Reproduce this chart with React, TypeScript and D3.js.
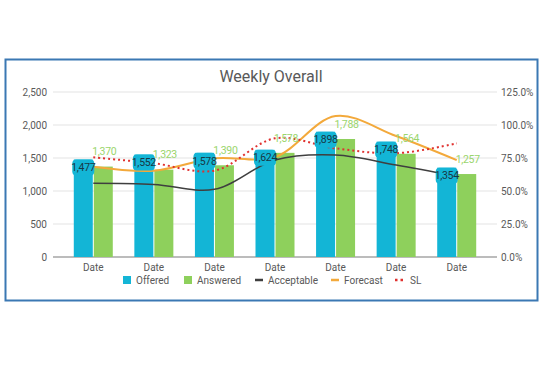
import React from "react";
import * as d3 from "d3";

const categories = ["Date", "Date", "Date", "Date", "Date", "Date", "Date"];
const offered = [1477, 1552, 1578, 1624, 1898, 1748, 1354];
const answered = [1370, 1323, 1390, 1578, 1788, 1564, 1257];
const acceptable = [1117, 1100, 1025, 1470, 1545, 1394, 1222];
const forecast = [1368, 1308, 1495, 1515, 2136, 1833, 1468];
const sl = [0.755, 0.71, 0.654, 0.899, 0.823, 0.786, 0.861];
const leftTicks = [0, 500, 1000, 1500, 2000, 2500];
const rightTicks = [0, 0.25, 0.5, 0.75, 1.0, 1.25];

const W = 540;
const H = 375;
const FONT = "Roboto, 'Open Sans', sans-serif";

export default function App() {
  const x = d3
    .scaleBand<number>()
    .domain(categories.map((_, i) => i))
    .range([63, 487])
    .padding(0);
  const yL = d3.scaleLinear().domain([0, 2500]).range([257, 92]);
  const yR = d3.scaleLinear().domain([0, 1.25]).range([257, 92]);
  const cx = (i: number) => (x(i) as number) + x.bandwidth() / 2;
  const bw = 19;
  const fmt = d3.format(",");
  const pfmt = d3.format(".1%");

  const lineL = d3
    .line<number>()
    .x((_, i) => cx(i))
    .y((d) => yL(d))
    .curve(d3.curveCatmullRom.alpha(0.5));
  const lineR = d3
    .line<number>()
    .x((_, i) => cx(i))
    .y((d) => yR(d))
    .curve(d3.curveCatmullRom.alpha(0.5));

  const cyan = "#13B5D6";
  const green = "#8ED05C";
  const orange = "#F3A93B";
  const dark = "#3F3F3F";
  const red = "#E0312F";
  const txt = "#595959";

  return (
    <svg
      width={W}
      height={H}
      style={{ position: "absolute", left: 0, top: 0, background: "#fff" }}
      fontFamily={FONT}
    >
      <rect x={0} y={0} width={W} height={H} fill="#fff" />
      <rect
        x={5.5}
        y={59.5}
        width={532}
        height={241}
        fill="#fff"
        stroke="#3B78B3"
        strokeWidth={2}
      />
      <text x={271} y={82} textAnchor="middle" fontSize={16} fill={txt}>
        Weekly Overall
      </text>
      {leftTicks.map((t) => (
        <g key={"g" + t}>
          <line
            x1={53}
            x2={497}
            y1={yL(t)}
            y2={yL(t)}
            stroke={t === 0 ? "#A6A6A6" : "#E3E3E3"}
            strokeWidth={t === 0 ? 1.5 : 1}
          />
          <text
            x={47}
            y={yL(t)}
            dy="0.35em"
            textAnchor="end"
            fontSize={10}
            fill={txt}
          >
            {fmt(t)}
          </text>
        </g>
      ))}
      {rightTicks.map((t) => (
        <text
          key={"r" + t}
          x={501}
          y={yR(t)}
          dy="0.35em"
          textAnchor="start"
          fontSize={10}
          fill={txt}
        >
          {pfmt(t)}
        </text>
      ))}
      {offered.map((v, i) => (
        <rect
          key={"o" + i}
          x={cx(i) - bw - 0.5}
          y={yL(v)}
          width={bw}
          height={yL(0) - yL(v)}
          fill={cyan}
        />
      ))}
      {answered.map((v, i) => (
        <rect
          key={"a" + i}
          x={cx(i) + 0.5}
          y={yL(v)}
          width={bw}
          height={yL(0) - yL(v)}
          fill={green}
        />
      ))}
      <path d={lineL(acceptable) || ""} fill="none" stroke={dark} strokeWidth={1.5} />
      <path d={lineL(forecast) || ""} fill="none" stroke={orange} strokeWidth={2} />
      <path
        d={lineR(sl) || ""}
        fill="none"
        stroke={red}
        strokeWidth={2}
        strokeDasharray="2,3"
      />
      {offered.map((v, i) => {
        const bx = cx(i) - bw / 2 - 0.5;
        const by = yL(v) + 8;
        return (
          <g key={"ol" + i}>
            <rect x={bx - 11} y={by - 8} width={22} height={16} rx={4} fill={cyan} />
            <text
              x={bx}
              y={by}
              dy="0.35em"
              textAnchor="middle"
              fontSize={10.5}
              letterSpacing={-0.3}
              fill="#173845"
            >
              {fmt(v)}
            </text>
          </g>
        );
      })}
      {answered.map((v, i) => (
        <text
          key={"al" + i}
          x={cx(i) + bw / 2 + 1.5}
          y={yL(v) - 15}
          dy="0.35em"
          textAnchor="middle"
          fontSize={10.5}
          letterSpacing={-0.3}
          fill="#9AD56C"
        >
          {fmt(v)}
        </text>
      ))}
      {categories.map((c, i) => (
        <text
          key={"c" + i}
          x={cx(i)}
          y={267}
          dy="0.35em"
          textAnchor="middle"
          fontSize={10}
          fill={txt}
        >
          {c}
        </text>
      ))}
      <g fontSize={10} fill={txt}>
        <rect x={123} y={276} width={8} height={8} fill={cyan} />
        <text x={136} y={280} dy="0.35em">Offered</text>
        <rect x={184} y={276} width={8} height={8} fill={green} />
        <text x={197} y={280} dy="0.35em">Answered</text>
        <line x1={255} x2={263} y1={280} y2={280} stroke={dark} strokeWidth={2.5} />
        <text x={268} y={280} dy="0.35em">Acceptable</text>
        <line x1={331} x2={339} y1={280} y2={280} stroke={orange} strokeWidth={2.5} />
        <text x={344} y={280} dy="0.35em">Forecast</text>
        <line
          x1={395}
          x2={405}
          y1={280}
          y2={280}
          stroke={red}
          strokeWidth={2.5}
          strokeDasharray="2.5,3"
        />
        <text x={410} y={280} dy="0.35em">SL</text>
      </g>
    </svg>
  );
}
